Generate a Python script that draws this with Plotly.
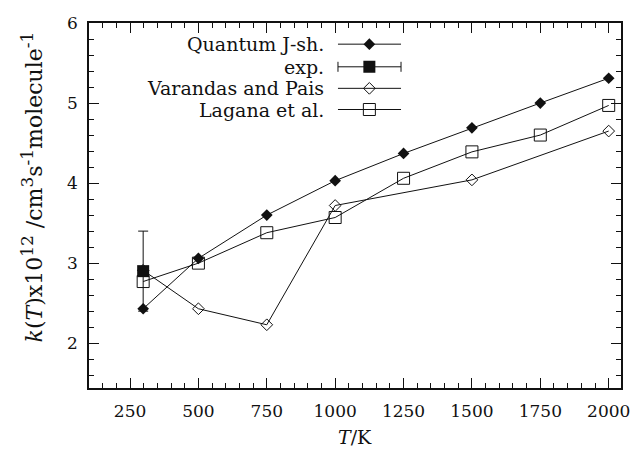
import plotly.graph_objects as go

# ---- data ----
T_quantum = [298, 500, 750, 1000, 1250, 1500, 1750, 2000]
k_quantum = [2.43, 3.06, 3.60, 4.03, 4.37, 4.69, 5.00, 5.31]

T_exp = [298]
k_exp = [2.90]
k_exp_err = [0.50]

T_varandas = [298, 500, 750, 1000, 1500, 2000]
k_varandas = [2.91, 2.43, 2.23, 3.72, 4.04, 4.65]

T_lagana = [298, 500, 750, 1000, 1250, 1500, 1750, 2000]
k_lagana = [2.77, 3.00, 3.38, 3.57, 4.06, 4.39, 4.60, 4.97]

names = ["Quantum J-sh.", "exp.", "Varandas and Pais", "Lagana et al."]

# ---- style ----
FONT = "DejaVu Serif"
FS_TICK = 17
FS_TEXT = 19
INK = "#111111"

fig = go.Figure()

fig.add_trace(go.Scatter(
    x=T_quantum, y=k_quantum, mode="lines+markers", name=names[0],
    line=dict(color=INK, width=1),
    marker=dict(symbol="diamond", size=9, color=INK), showlegend=False))

fig.add_trace(go.Scatter(
    x=T_varandas, y=k_varandas, mode="lines+markers", name=names[2],
    line=dict(color=INK, width=1),
    marker=dict(symbol="diamond-open", size=9, color=INK, line=dict(width=1)),
    showlegend=False))

fig.add_trace(go.Scatter(
    x=T_lagana, y=k_lagana, mode="lines+markers", name=names[3],
    line=dict(color=INK, width=1),
    marker=dict(symbol="square-open", size=12, color=INK, line=dict(width=1)),
    showlegend=False))

fig.add_trace(go.Scatter(
    x=T_exp, y=k_exp, mode="markers", name=names[1],
    marker=dict(symbol="square", size=12, color=INK),
    error_y=dict(type="data", array=k_exp_err, color=INK, thickness=1, width=5),
    showlegend=False))

# ---- custom legend (text right-aligned left of the key, like gnuplot) ----
# a small helper subplot whose data coordinates equal paper coordinates
LEG_DX = [0.40, 0.60]
LEG_DY = [0.70, 1.00]
leg_text_x = 0.4455
leg_x0, leg_x1, leg_xm = 0.468, 0.5865, 0.527
leg_rows = [0.942, 0.880, 0.821, 0.763]
leg_styles = [
    dict(symbol="diamond", size=9, color=INK),
    dict(symbol="square", size=12, color=INK),
    dict(symbol="diamond-open", size=9, color=INK, line=dict(width=1)),
    dict(symbol="square-open", size=12, color=INK, line=dict(width=1)),
]
for i, (nm, yy, ms) in enumerate(zip(names, leg_rows, leg_styles)):
    fig.add_annotation(x=leg_text_x, y=yy, xref="paper", yref="paper",
                       text=nm, showarrow=False, xanchor="right", yanchor="middle",
                       font=dict(family=FONT, size=FS_TEXT, color=INK))
    if i == 1:
        fig.add_trace(go.Scatter(
            x=[leg_xm], y=[yy], xaxis="x2", yaxis="y2", mode="markers",
            marker=ms, showlegend=False, hoverinfo="skip",
            error_x=dict(type="data", array=[leg_x1 - leg_xm],
                         arrayminus=[leg_xm - leg_x0],
                         color=INK, thickness=1, width=5)))
    else:
        fig.add_trace(go.Scatter(
            x=[leg_x0, leg_x1], y=[yy, yy], xaxis="x2", yaxis="y2", mode="lines",
            line=dict(color=INK, width=1), showlegend=False, hoverinfo="skip"))
        fig.add_trace(go.Scatter(
            x=[leg_xm], y=[yy], xaxis="x2", yaxis="y2", mode="markers",
            marker=ms, showlegend=False, hoverinfo="skip"))

# ---- axis titles ----
SUP = '<sup><span style="font-size:17px">{}</span></sup>'
ytitle = ("<i>k</i>(<i>T</i>)x10" + SUP.format("12") + " /cm" + SUP.format("3")
          + "s" + SUP.format("-1") + "molecule" + SUP.format("-1"))
fig.add_annotation(
    x=-0.108, y=0.551, xref="paper", yref="paper", textangle=-90,
    xanchor="center", yanchor="middle",
    text=ytitle, showarrow=False, font=dict(family=FONT, size=22, color=INK))
fig.add_annotation(
    x=0.5, y=-0.134, xref="paper", yref="paper", text="<i>T</i>/K",
    xanchor="center", yanchor="middle",
    showarrow=False, font=dict(family=FONT, size=FS_TEXT, color=INK))

axis_common = dict(
    showgrid=False, zeroline=False, showline=True, linecolor=INK, linewidth=1.5,
    mirror="allticks", ticks="inside", tickcolor=INK, tickwidth=1, ticklen=10,
    tickfont=dict(family=FONT, size=FS_TICK, color=INK), automargin=False,
    ticklabeloverflow="allow",
)

fig.update_layout(
    width=633, height=453,
    margin=dict(l=89, r=12, t=23, b=65, autoexpand=False),
    paper_bgcolor="white", plot_bgcolor="rgba(0,0,0,0)",
    font=dict(family=FONT, size=FS_TEXT, color=INK),
    xaxis=dict(range=[100, 2045], tickmode="linear", tick0=0, dtick=250,
               minor=dict(dtick=50, tick0=0, ticks="inside", ticklen=5,
                          tickcolor=INK, tickwidth=1, showgrid=False),
               ticklabelstandoff=7, **axis_common),
    yaxis=dict(range=[1.44, 6.0], tickmode="linear", tick0=0, dtick=1,
               minor=dict(dtick=0.2, tick0=0, ticks="inside", ticklen=5,
                          tickcolor=INK, tickwidth=1, showgrid=False),
               ticklabelstandoff=6, **axis_common),
    xaxis2=dict(domain=LEG_DX, range=LEG_DX, anchor="y2", visible=False,
                fixedrange=True),
    yaxis2=dict(domain=LEG_DY, range=LEG_DY, anchor="x2", visible=False,
                fixedrange=True),
)

# remove the browser's default page margin so the figure fills the window
fig.write_html(
    "out.html",
    config={"displayModeBar": False},
    post_script="document.body.style.margin='0';document.body.style.overflow='hidden';",
)
